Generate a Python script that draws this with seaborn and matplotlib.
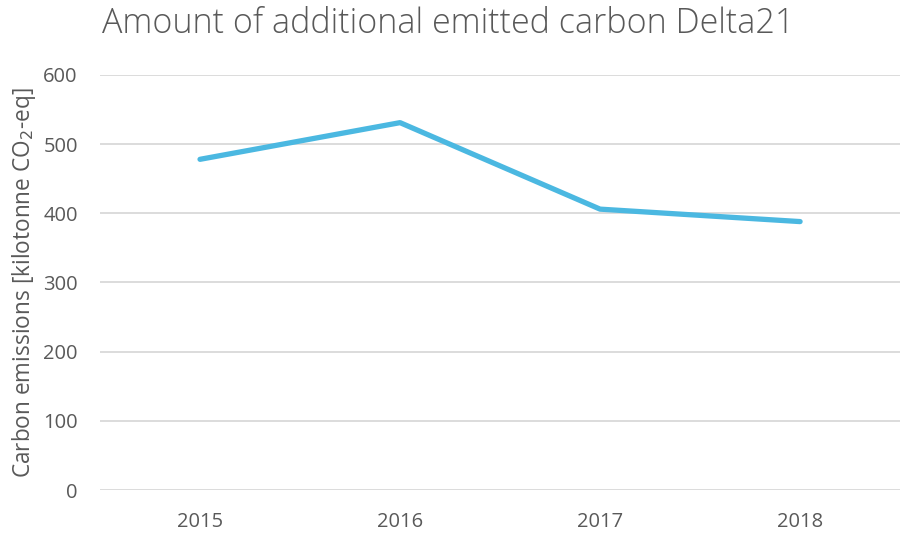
import matplotlib.pyplot as plt
import pandas as pd
import seaborn as sns

years = ["2015", "2016", "2017", "2018"]
emissions = [478, 531, 406, 388]
y_ticks = [0, 100, 200, 300, 400, 500, 600]

df = pd.DataFrame({"Year": years, "Emissions": emissions})

sns.set_theme(style="white")
plt.rcParams["font.family"] = ["Open Sans", "DejaVu Sans"]

fig = plt.figure(figsize=(9.01, 5.35), dpi=100)
ax = fig.add_axes([0.111, 0.084, 0.888, 0.776])

# horizontal grid only, Excel style
ax.set_axisbelow(True)
ax.yaxis.grid(True, color="#D9D9D9", linewidth=1.3)
ax.xaxis.grid(False)

sns.lineplot(data=df, x="Year", y="Emissions", ax=ax,
             color="#4BB8E1", linewidth=3.8, solid_capstyle="round")

ax.set_xlim(-0.5, 3.5)
ax.set_ylim(0, 600)
ax.set_yticks(y_ticks)

for s in ["top", "right", "left", "bottom"]:
    ax.spines[s].set_visible(False)

ax.tick_params(axis="both", length=0, labelsize=14.5, labelcolor="#595959")
ax.tick_params(axis="y", pad=16)
ax.tick_params(axis="x", pad=16)

ax.set_xlabel("")
ax.set_ylabel("Carbon emissions [kilotonne CO$_2$-eq]", fontsize=16.3, color="#595959", labelpad=4)

fig.text(0.113, 0.938, "Amount of additional emitted carbon Delta21",
         fontsize=24.5, fontweight="light", color="#595959", va="baseline", ha="left")

fig.savefig("out.png", dpi=100)
